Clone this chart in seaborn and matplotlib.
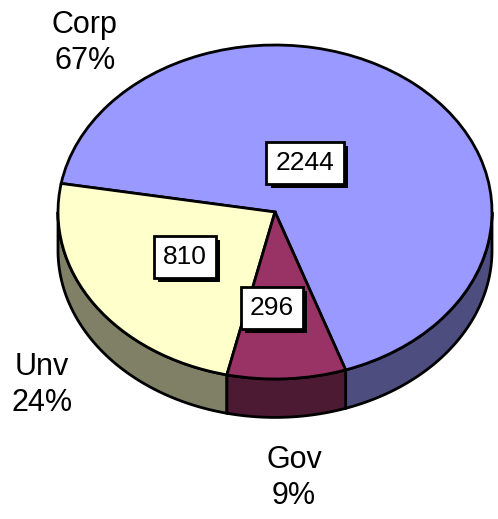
import matplotlib
matplotlib.use("Agg")
import matplotlib.pyplot as plt
import matplotlib.patheffects as pe
import numpy as np
import seaborn as sns

# data
categories = ["Corp", "Unv", "Gov"]
values = [2244, 810, 296]
pct_labels = ["67%", "24%", "9%"]

top_colors = ["#9999ff", "#ffffcc", "#993366"]
side_colors = ["#4d4d80", "#808066", "#4d1a33"]

# layout (pixel -> data: x=(px-275)/217, y=(212-py)/167)
value_pos = [(0.138, 0.293), (-0.415, -0.27), (-0.014, -0.575)]
name_pos = [(-0.876, 1.01), (-1.074, -1.036), (0.088, -1.593)]
depth = 0.23

sns.set_theme(style="white")
plt.rcParams["font.family"] = ["Liberation Sans", "DejaVu Sans"]
plt.rcParams["text.color"] = "black"

fig = plt.figure(figsize=(4.98, 5.19), dpi=100)
ax = fig.add_axes([0, 0, 1, 1])

wedges, _ = ax.pie(
    values,
    colors=top_colors,
    startangle=-71,
    counterclock=True,
    wedgeprops=dict(edgecolor="black", linewidth=2),
)
for w in wedges:
    w.set_zorder(3)

# side walls of the 3D pie (front half only)
for w, col in zip(wedges, side_colors):
    s, e = w.theta1, w.theta2
    for k in range(-1, 3):
        lo = max(s, 180 + 360 * k)
        hi = min(e, 360 + 360 * k)
        if hi <= lo:
            continue
        t = np.radians(np.linspace(lo, hi, 80))
        xs = np.concatenate([np.cos(t), np.cos(t[::-1])])
        ys = np.concatenate([np.sin(t), np.sin(t[::-1]) - depth])
        ax.fill(xs, ys, facecolor=col, edgecolor="black", linewidth=2, zorder=2)

# value boxes
for (x, y), v in zip(value_pos, values):
    t = ax.text(x, y, str(v), fontsize=19, ha="center", va="center", zorder=5,
                color="black",
                bbox=dict(boxstyle="square,pad=0.35", facecolor="white",
                          edgecolor="black", linewidth=2))
    t.get_bbox_patch().set_path_effects([
        pe.SimplePatchShadow(offset=(3, -3), shadow_rgbFace="black", alpha=1),
        pe.Normal(),
    ])

# category labels
for (x, y), name, pct in zip(name_pos, categories, pct_labels):
    ax.text(x, y, f"{name}\n{pct}", fontsize=22, ha="center", va="center",
            linespacing=1.25, zorder=5, color="black")

ax.set_aspect("auto")
ax.set_xlim(-275 / 217, 223 / 217)
ax.set_ylim(-307 / 167, 212 / 167)
ax.axis("off")

fig.savefig("out.png", dpi=100, facecolor="white")
